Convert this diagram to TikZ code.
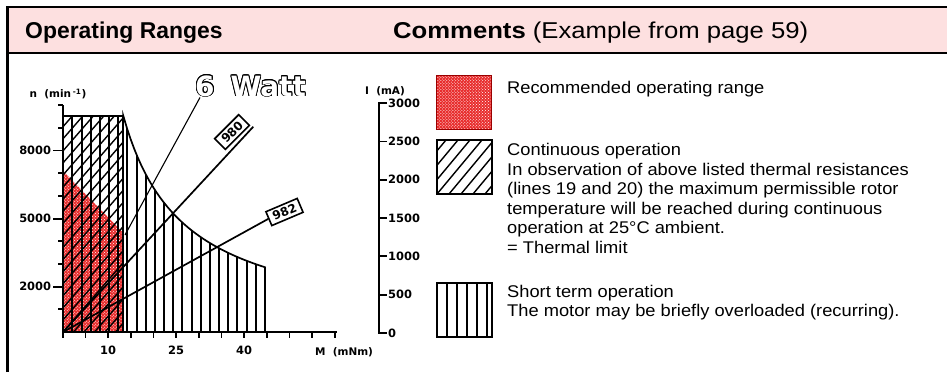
\documentclass[tikz,border=0pt]{standalone}
\usepackage{fontspec}
\setmainfont{Liberation Sans}
\newfontfamily\plotfont{DejaVu Sans}
\newfontfamily\headwide{Liberation Sans}[FakeStretch=1.12]
\newfontfamily\legfont{Liberation Sans}[FakeStretch=1.08]
\usepackage{contour}
\usetikzlibrary{patterns,positioning}
\definecolor{headpink}{RGB}{253,224,224}
\definecolor{recred}{RGB}{232,44,44}
\contourlength{0.9pt}

\begin{document}
\begin{tikzpicture}[x=1bp,y=-1bp,
  thickline/.style={line width=1.7bp},
  hatchline/.style={line width=1.4bp},
  vhatch/.style={line width=2bp},
  ticklab/.style={font=\plotfont\bfseries\fontsize{11.5}{11.5}\selectfont,inner sep=1bp},
  axlab/.style={font=\plotfont\bfseries\fontsize{10.5}{10.5}\selectfont,inner sep=0pt},
  legtext/.style={font=\legfont\fontsize{17}{19.6}\selectfont,align=left,inner sep=0pt},
  typebox/.style={draw,line width=1.6bp,fill=white,inner xsep=4.5bp,inner ysep=3bp,font=\plotfont\bfseries\fontsize{12}{12}\selectfont},
  recfill/.style={fill=recred,postaction={pattern=crosshatch dots,pattern color=white}}]
\useasboundingbox (0,0) rectangle (947,372);
\fill[headpink] (8,7) rectangle (947,53);
\draw[line width=2.2bp] (7.5,372) -- (7.5,7) -- (947,7);
\draw[line width=2.2bp] (7.5,53) -- (947,53);
\node[font=\bfseries\fontsize{23}{23}\selectfont,anchor=base west,inner sep=0pt] (title) at (25,38) {Operating Ranges};
\node[font=\headwide\fontsize{23}{23}\selectfont,anchor=base west,inner sep=0pt] (comments) at (393,38) {\textbf{Comments} (Example from page 59)};
\fill[recfill] (63,171) -- (123.3,233) -- (123.3,332) -- (63,332) -- cycle;
\begin{scope}
\clip (63,116) -- (123.3,116) -- plot[domain=123.3:265,samples=40] (\x,{332-13100/(\x-62.7)}) -- (265,332) -- (63,332) -- cycle;
\foreach \k in {0,...,22} \draw[vhatch] ({round(63.2+\k*9.17)},100) -- ({round(63.2+\k*9.17)},332);
\end{scope}
\begin{scope}
\clip (63,116) rectangle (123.3,332);
\foreach \k in {-18,...,6} \draw[hatchline] (63+\k*10.5,332) -- ++(200,-230);
\end{scope}
\draw[thickline] (63,116) -- (123.3,116) -- plot[domain=123.3:265,samples=40] (\x,{332-13100/(\x-62.7)}) -- (265,332);
\draw[thickline] (123.3,116) -- (123.3,332);
\coordinate (origin) at (63,332);
\coordinate (e980) at (253.3,126.7);
\coordinate (w6) at (125,235);
\draw[thickline] (origin) -- (e980);
\node[typebox,rotate=45] (l980) at (232,132) {980};
\node[typebox,rotate=23] (l982) at (284.5,212) {982};
\draw[thickline] (origin) -- (l982.west);
\node[font=\plotfont\bfseries\fontsize{28}{28}\selectfont,anchor=base west,inner sep=0pt] (watt) at (195,96) {\color{white}\contour{black}{6\hspace{16bp}Watt}};
\draw[line width=1.1bp] (w6) -- ([xshift=5bp]watt.south west);
\draw[thickline] (63,105.3) -- (63,338);
\draw[thickline] (63,332) -- (336.7,332);
\foreach \k in {1,...,10} \draw[thickline] (63,332-\k*22.67) -- ++(-5,0);
\foreach \k in {2,5,8} \draw[thickline] (63,332-\k*22.67) -- ++(-10,0) node[ticklab,left] (yl\k) {\k000};
\foreach \k in {1,...,12} \draw[thickline] (62.7+\k*22.67,332) -- ++(0,6);
\foreach \m/\k in {10/2,25/5,40/8} \node[ticklab] (xl\m) at (62.7+\k*22.67,350) {\m};
\draw[thickline] (387,103) -- (379,103) -- (379,333) -- (387,333);
\foreach \k in {1,...,5} \draw[thickline] (379,333-\k*38.33) -- ++(8,0);
\foreach \k/\v in {0/0,1/500,2/1000,3/1500,4/2000,5/2500,6/3000} \node[ticklab,anchor=west] (il\k) at (387,333-\k*38.33) {\v};
\node[axlab] (nlab) at (58,94) {n\ \ (min\,\textsuperscript{-1})};
\node[axlab] (ilab) at (385,91) {I\ \ (mA)};
\node[axlab,anchor=west] (mlab) at (315,352) {M\ \ (mNm)};
\fill[recfill] (436.7,75) rectangle (491.7,129);
\draw[red!60!black,line width=0.8bp] (436.7,75) rectangle (491.7,129);
\begin{scope}
\clip (437,140) rectangle (492,194);
\foreach \k in {-6,...,5} \draw[hatchline] (437+\k*12,194) -- ++(60,-72);
\end{scope}
\draw[line width=1.8bp] (437,140) rectangle (492,194);
\foreach \x in {447,457,467,477,487} \draw[vhatch] (\x,283) -- (\x,337);
\draw[line width=1.8bp] (436.7,283) rectangle (491.7,337);
\node[legtext,anchor=base west] (rec) at (507,93.8) {Recommended operating range};
\node[legtext,anchor=north west] (cont) at (507,143) {Continuous operation\\In observation of above listed thermal resistances\\(lines 19 and 20) the maximum permissible rotor\\temperature will be reached during continuous\\operation at 25°C ambient.\\= Thermal limit};
\node[legtext,anchor=north west] (short) at (507,284.8) {Short term operation\\The motor may be briefly overloaded (recurring).};
\end{tikzpicture}
\end{document}
